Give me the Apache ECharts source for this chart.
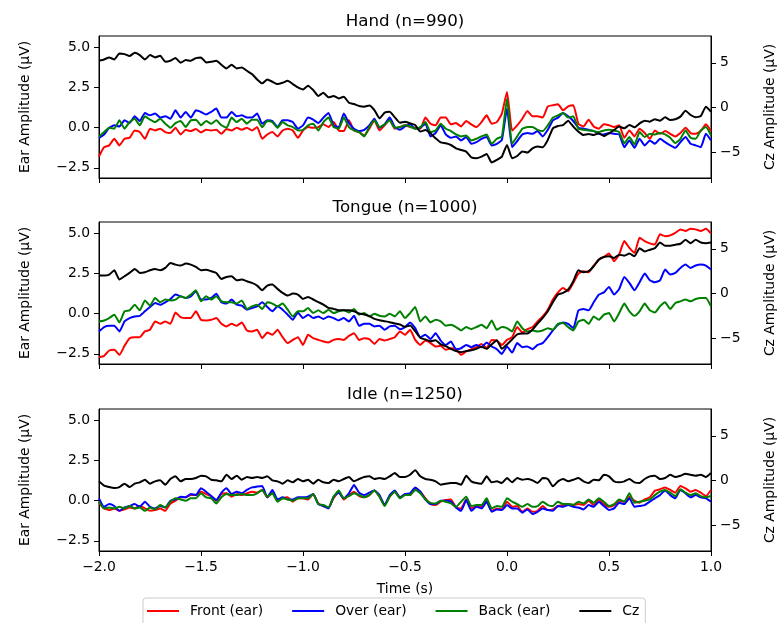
<!DOCTYPE html>
<html><head><meta charset="utf-8">
<script src="https://cdn.jsdelivr.net/npm/echarts@6/dist/echarts.min.js"></script>
<style>html,body{margin:0;padding:0;background:#fff}#c{width:779px;height:623px}</style>
</head><body><div id="c"></div>
<script>
const tStart = -2.0, tStep = 0.025;
const xTickMin = -2.0, xTickMax = 1.0, xTickStep = 0.5;
const earTicks = [-2.5, 0, 2.5, 5];
const czTicks = [-5, 0, 5];
const panelTitles = ['Hand (n=990)', 'Tongue (n=1000)', 'Idle (n=1250)'];
const seriesNames = ['Front (ear)', 'Over (ear)', 'Back (ear)', 'Cz'];
const seriesColors = ['#ff0000', '#0000ff', '#008000', '#000000'];

const handFront = [
-1.79,-1.21,-1.1,-0.69,-1.1,-0.69,-0.63,-0.17,-0.27,-0.69,
-0.06,-0.17,-0.06,-0.27,-0.33,0,-0.42,-0.13,-0.21,-0.08,
-0.29,-0.13,-0.17,-0.13,-0.38,-0.08,-0.17,0,-0.13,0,
-0.17,0.04,-0.69,-0.42,-0.27,-0.54,-0.17,-0.06,-0.17,-0.63,
-0.17,0.04,0,0.04,0.21,0.04,0.35,-0.17,-0.21,0.46,
-0.17,-0.27,-0.48,-0.06,0.46,-0.17,0.15,0.5,-0.06,0.04,
0.15,0.04,0,-0.06,0.63,0.25,0.15,0.63,0.63,0.21,
0.29,0.08,0.42,0.21,0.04,0.35,0.77,0.25,0.35,0.88,
2.23,-0.17,0.15,0.56,1.04,0.71,0.71,0.63,1.33,1.4,
1.46,1.08,1.33,1.4,0.25,0.08,0.5,0.08,-0.06,0.21,
0.15,0.04,0.15,-0.63,-0.17,-0.54,-0.06,-0.33,-0.69,-0.17,
-0.38,-0.21,-0.38,-0.54,-0.33,0,-0.33,-0.38,-0.21,0.21,
-0.21];
const handOver = [
-0.63,-0.42,0,0.15,0.08,0.46,0.29,0.71,0.42,0.92,
0.77,0.88,0.63,0.71,0.56,1.08,0.63,0.98,0.63,1.08,
0.98,0.83,0.98,1.19,0.63,0.63,0.98,0.71,0.77,0.63,
0.63,0.88,0.25,0.46,0.42,0.04,0.46,0.46,0.35,-0.06,
0.15,0.63,0.5,0.29,0.63,0.92,0.15,0.04,0.88,0.29,
-0.06,-0.21,-0.13,0.15,0.56,0,0.21,0.63,0.04,-0.13,
0.08,0.21,-0.06,0,0.25,-0.54,-0.33,0.15,-0.42,-0.63,
-0.54,-0.79,-0.58,-1.0,-0.9,-0.69,-0.58,-1.1,-1.0,-0.75,
1.19,-1.21,-0.83,-0.42,-0.33,-0.38,-0.21,-0.54,-0.13,0.46,
0.63,0.92,0.71,0.42,0,-0.06,-0.13,-0.21,-0.38,-0.42,
-0.33,-0.38,-0.42,-1.21,-0.79,-1.25,-0.69,-1.1,-0.79,-1.0,
-0.69,-0.9,-1.1,-1.25,-0.9,-0.58,-1.0,-1.1,-1.21,-0.38,
-0.79];
const handBack = [
-0.54,-0.27,0,-0.06,0.46,-0.06,0.35,0.56,0.15,0.71,
0.5,0.35,0.56,0.25,0,0.29,0.42,0.04,0.46,0.5,
0.15,0.42,0.25,0.46,0.15,0,0.63,0.35,0.56,0.25,
0.5,0.5,0.04,0.42,0.35,0,0.35,0.15,0.04,-0.17,
-0.13,0.15,0.25,-0.17,0.35,0.63,0.04,-0.06,0.63,0.04,
-0.17,-0.27,-0.54,0.04,0.46,0.04,0.21,0.46,0,0.04,
0.15,0.08,-0.06,0.04,0.35,-0.27,-0.17,0.25,-0.06,-0.21,
-0.42,-0.54,-0.48,-0.79,-0.69,-0.54,-0.42,-1.0,-0.69,-0.54,
1.81,-1.0,-0.54,-0.06,0.04,0.04,-0.13,-0.21,0.15,0.63,
0.77,0.92,0.63,0.71,-0.06,-0.13,-0.17,-0.21,-0.27,-0.17,
-0.13,-0.17,-0.27,-0.96,-0.58,-1.04,-0.27,-0.58,-0.38,-0.42,
-0.33,-0.42,-0.63,-0.96,-0.69,-0.17,-0.63,-0.69,-0.17,0.04,
-0.48];
const handCz = [
5.22,5.37,5.6,5.37,6.04,5.97,5.75,6.12,5.86,5.37,
5.86,5.6,5.78,5.11,5.22,5.52,5.0,5.3,5.22,5.52,
5.6,5.04,5.11,5.22,4.78,4.37,4.78,4.37,4.48,4.1,
3.73,3.13,2.69,3.13,2.87,2.61,2.76,2.99,2.61,2.24,
2.01,2.43,1.94,1.27,1.64,1.12,1.27,1.0,1.19,0.52,
0.37,0.15,0.07,0.22,-0.3,-1.23,-0.6,-0.49,-1.12,-1.72,
-1.6,-1.79,-1.98,-2.72,-2.54,-2.91,-3.47,-3.92,-4.03,-4.22,
-4.59,-4.78,-4.96,-5.6,-5.7,-5.52,-5.22,-6.19,-5.9,-5.52,
-4.22,-5.7,-5.45,-4.96,-5.07,-4.59,-4.4,-4.48,-3.66,-2.35,
-2.09,-1.98,-1.49,-2.16,-2.72,-3.1,-2.99,-3.1,-2.91,-3.21,
-2.91,-2.54,-2.16,-2.35,-1.98,-2.24,-1.79,-1.49,-1.6,-1.34,
-1.49,-1.12,-1.42,-1.34,-1.04,-0.37,-0.86,-1.12,-0.97,0.07,
-0.49];

const tongueFront = [
-2.71,-2.62,-2.29,-2.25,-2.56,-2.0,-1.52,-1.46,-1.46,-1.1,
-1.0,-0.48,-0.63,-0.48,-0.63,0.08,-0.21,-0.27,-0.27,0.15,
-0.38,-0.42,-0.38,-0.27,-0.63,-0.79,-0.63,-0.75,-0.54,-1.04,
-1.1,-1.0,-1.52,-1.17,-1.31,-1.0,-1.46,-1.83,-1.63,-1.46,
-1.94,-1.31,-1.52,-1.63,-1.73,-1.79,-1.63,-1.58,-1.63,-1.38,
-1.21,-1.63,-1.52,-1.58,-1.88,-1.58,-1.67,-1.58,-1.46,-1.1,
-1.31,-1.0,-1.63,-1.94,-1.67,-1.83,-2.04,-2.0,-2.25,-2.15,
-2.21,-2.56,-2.35,-2.21,-2.08,-1.88,-2.15,-1.63,-1.67,-1.94,
-1.63,-1.46,-0.83,-1.17,-0.96,-0.83,-0.48,-0.17,0.25,0.88,
1.33,1.6,1.4,1.92,2.5,2.65,2.58,3.0,3.38,3.54,
3.75,3.27,3.69,4.52,4.1,3.79,4.73,4.52,4.38,4.31,
4.94,4.83,4.88,5.04,5.25,5.15,5.29,5.25,5.15,5.29,
5.0];
const tongueOver = [
-1.1,-0.83,-0.75,-0.75,-1.1,-0.48,-0.27,-0.17,-0.13,0.15,
0.42,0.67,0.56,0.71,0.92,1.19,1.08,0.98,1.08,1.4,
0.88,0.88,0.98,1.25,0.71,0.63,0.88,0.56,0.5,0.25,
0.35,0.46,0.71,0.42,0.15,0.46,0.25,-0.06,-0.38,0.08,
-0.27,-0.06,-0.27,-0.17,-0.33,-0.17,-0.27,-0.42,-0.27,-0.48,
-0.13,-0.75,-0.63,-0.63,-0.79,-0.75,-1.0,-0.79,-0.75,-0.96,
-0.83,-0.54,-0.9,-1.46,-1.31,-1.58,-1.21,-1.67,-1.94,-1.73,
-2.21,-2.15,-1.94,-2.08,-1.94,-2.08,-1.79,-2.04,-2.21,-2.5,
-2.04,-2.42,-1.83,-2.08,-2.04,-2.21,-1.94,-1.83,-1.46,-1.04,
-0.69,-0.54,-0.63,-0.9,0.21,0.29,0.21,0.71,1.19,1.33,
1.67,1.19,1.54,2.29,1.92,1.46,1.96,2.5,2.08,1.96,
2.08,2.75,2.44,2.54,2.85,3.06,2.85,3.0,3.06,3.0,
2.75];
const tongueBack = [
-0.48,-0.42,-0.27,-0.06,-0.54,0.15,0.21,0.56,0.21,0.83,
0.5,0.98,0.71,0.88,0.83,0.88,1.08,0.98,1.19,1.46,
0.77,1.08,0.88,1.08,0.77,0.71,0.71,0.63,0.83,0.29,
0.46,0.56,0.29,0.71,0.63,0.46,0.63,0.25,-0.17,0.15,
0.15,0.35,0.04,0.21,0.04,0.25,0.04,0.15,0.21,0.08,
0.29,-0.06,0.04,-0.17,0,-0.13,-0.17,0,-0.17,0.15,
-0.27,0.04,0.42,-0.48,-0.17,-0.54,-0.38,-0.48,-0.75,-0.69,
-0.83,-1.04,-0.83,-0.96,-0.83,-0.69,-0.9,-0.42,-1.0,-0.83,
-0.9,-1.1,-0.48,-0.9,-1.1,-1.04,-1.1,-1.04,-0.9,-1.0,
-0.63,-0.58,-0.83,-1.04,-0.48,-0.38,-0.63,-0.17,-0.38,-0.06,
0.04,-0.48,0.04,0.63,0.15,-0.13,0.15,0.63,0.21,0.08,
0.46,0.71,0.29,0.67,0.77,0.88,0.77,0.92,0.98,0.98,
0.46];
const tongueCz = [
1.99,1.99,2.1,2.59,1.54,1.92,2.29,2.74,2.29,2.37,
2.59,2.74,2.59,2.85,3.41,3.22,3.11,3.34,3.22,2.96,
2.59,2.66,2.48,2.29,1.62,1.84,1.92,1.47,1.54,1.36,
1.17,0.87,0.35,0.87,0.99,0.5,0.05,-0.25,-0.02,-0.13,
-0.62,-0.4,-0.69,-0.99,-1.25,-1.63,-1.74,-1.89,-1.89,-1.89,
-2.0,-2.26,-2.37,-2.56,-2.86,-3.01,-3.12,-3.23,-3.38,-3.49,
-3.75,-3.6,-4.24,-4.99,-5.17,-5.36,-5.25,-5.73,-5.92,-6.22,
-6.47,-6.59,-6.47,-6.37,-6.22,-5.99,-6.22,-5.73,-5.25,-6.22,
-5.73,-5.17,-4.61,-4.5,-4.5,-4.05,-3.38,-2.75,-2.0,-0.99,
-0.13,0.05,0.43,1.36,2.59,2.37,2.48,3.04,3.78,4.08,
4.16,3.97,4.34,4.23,4.46,4.16,5.07,4.7,4.89,5.07,
5.71,5.34,5.34,5.45,5.56,6.0,5.63,6.0,5.71,5.63,
5.71];

const idleFront = [
-0.13,-0.48,-0.58,-0.48,-0.63,-0.54,-0.42,-0.48,-0.33,-0.48,
-0.63,-0.58,-0.48,-0.63,-0.17,0,0.21,0.21,0.35,0.35,
0.56,0.42,0.29,0,0.42,0.46,0.25,0.42,0.35,0.46,
0.56,0.5,0.67,0.21,0.5,0,0.15,0.21,-0.06,0.15,
0.15,0.08,0.42,-0.17,-0.33,-0.42,0.15,0.56,0.08,0.35,
0.56,0.29,0.21,0.35,0.63,0.25,-0.27,0.25,0.56,0.21,
0.35,0.35,0.77,0.56,0.15,-0.21,-0.27,-0.06,0.04,0.08,
-0.42,-0.48,0.08,-0.48,-0.33,-0.38,0,-0.63,-0.48,-0.54,
-0.06,-0.38,-0.33,-0.69,-0.48,-0.69,-0.63,-0.33,-0.58,-0.54,
-0.33,-0.27,-0.21,-0.27,-0.21,-0.27,0,-0.27,0.08,-0.21,
-0.38,-0.27,0,-0.06,0.25,0,-0.13,0.08,0.21,0.63,
0.71,0.83,0.67,0.5,0.92,0.77,0.56,0.67,0.5,0.29,
0.67];
const idleOver = [
0.15,-0.38,-0.21,-0.33,-0.63,-0.42,-0.33,-0.21,-0.38,-0.06,
-0.38,-0.48,-0.33,-0.42,0,0.08,0.25,0.21,0.42,0.35,
0.77,0.56,0.29,0.04,0.5,0.77,0.42,0.56,0.46,0.67,
0.83,0.88,0.92,0.21,0.67,0.08,0.21,0.08,0.08,0.21,
0.21,0.25,0.42,-0.21,-0.33,-0.48,0.25,0.5,0.15,0.46,
0.98,0.5,0.35,0.5,0.63,0.35,-0.27,0.35,0.63,0.21,
0.42,0.46,0.83,0.56,0.08,-0.21,-0.21,0,0,-0.06,
-0.42,-0.63,0.04,-0.63,-0.38,-0.48,-0.06,-0.69,-0.54,-0.58,
-0.27,-0.48,-0.48,-0.75,-0.54,-0.83,-0.69,-0.48,-0.58,-0.63,
-0.33,-0.38,-0.27,-0.38,-0.42,-0.54,-0.27,-0.38,-0.06,-0.33,
-0.58,-0.48,-0.13,-0.21,0.15,-0.38,-0.33,-0.27,-0.06,0.15,
0.35,0.63,0.35,0.15,0.67,0.46,0.21,0.35,0.21,0.15,
-0.06];
const idleBack = [
-0.06,-0.48,-0.42,-0.48,-0.38,-0.48,-0.33,-0.48,-0.42,-0.63,
-0.42,-0.54,-0.27,-0.42,-0.06,0.15,0.08,0,0.15,0.15,
0.46,0.21,0.15,-0.17,0.21,0.42,0.35,0.35,0.42,0.35,
0.35,0.46,0.67,0.25,0.46,-0.06,0.15,0.08,0,0.15,
0.15,0.15,0.42,-0.21,-0.27,-0.42,0.25,0.63,0.15,0.29,
0.46,0.35,0.21,0.35,0.63,0.25,-0.33,0.25,0.56,0.15,
0.35,0.35,0.67,0.46,0.08,-0.13,-0.17,0,-0.06,-0.17,
-0.38,-0.06,0.25,-0.33,-0.27,-0.27,0.15,-0.48,-0.33,-0.38,
0.15,-0.06,-0.21,-0.38,-0.21,-0.38,-0.33,-0.06,-0.27,-0.33,
-0.06,-0.21,-0.21,-0.27,-0.06,-0.17,0.08,-0.13,0.15,-0.06,
-0.33,-0.21,0.08,-0.06,0.46,-0.13,-0.06,0,0.08,0.35,
0.56,0.67,0.5,0.29,0.71,0.5,0.35,0.46,0.29,0.21,
0.29];
const idleCz = [
-0.11,-0.6,-0.75,-0.86,-0.75,-0.37,-0.75,-0.37,-0.22,0.07,
-0.37,-0.11,0,-0.49,0.15,0.45,-0.11,0.15,0.15,0.26,
0.52,0.45,0.07,0,-0.11,0.63,0.15,0.52,0.07,0.37,
0.26,0.37,0.26,0.45,0,-0.11,-0.37,0,-0.22,0.15,
-0.11,0.07,-0.37,0.07,-0.22,-0.3,0.07,-0.11,0.15,0.37,
-0.11,0.15,0.37,0.45,0.15,0.26,0.15,0.45,0.82,0.37,
0.37,0.63,1.12,0.45,0.15,0.07,-0.11,-0.49,-0.37,-0.3,
-0.3,-0.49,0.52,-0.11,-0.3,-0.37,0.45,-0.22,-0.11,-0.3,
0.26,-0.22,0.26,0.07,0.15,0,-0.3,0.26,0.15,-0.67,
-0.11,0.15,-0.11,0.07,0.26,-0.11,-0.3,0.07,0,0.63,
0.45,-0.11,-0.22,-0.11,0.15,-0.22,-0.3,0.15,0.45,0.52,
0.15,0.26,0.63,0.37,0.52,0.75,0.63,0.52,0.63,0.37,
0.82];

const panels = [
  [handFront, handOver, handBack, handCz],
  [tongueFront, tongueOver, tongueBack, tongueCz],
  [idleFront, idleOver, idleBack, idleCz]
];
const times = handFront.map((_, i) => +(tStart + i * tStep).toFixed(3));

const FONT = 'DejaVu Sans';
const gridTops = [36, 222, 409];
const gridLeft = 99, gridW = 612, gridH = 142;
const fmt1 = v => (v < 0 ? '\u2212' : '') + Math.abs(v).toFixed(1);
const fmt0 = v => (v < 0 ? '\u2212' : '') + Math.abs(v).toFixed(0);
const txt = {color: '#000', fontFamily: FONT, fontSize: 13.9};

const grids = [], xAxes = [], yAxes = [], series = [], graphics = [];
panels.forEach((pan, p) => {
  grids.push({left: gridLeft, top: gridTops[p], width: gridW, height: gridH,
    containLabel: false, outerBoundsMode: 'none',
    show: true, borderColor: '#000', borderWidth: 1, backgroundColor: 'transparent'});
  xAxes.push({type: 'value', gridIndex: p, min: xTickMin, max: xTickMax, interval: xTickStep,
    axisLine: {show: true, onZero: false, lineStyle: {color: '#000', width: 1}},
    axisTick: {show: true, length: 5, lineStyle: {color: '#000', width: 1}},
    splitLine: {show: false},
    axisLabel: {show: p === 2, formatter: fmt1, margin: 9, ...txt},
    name: p === 2 ? 'Time (s)' : '', nameLocation: 'middle', nameGap: 31,
    nameTextStyle: {...txt}
  });
  yAxes.push({type: 'value', gridIndex: p, position: 'left', min: -3.13, max: 5.71,
    axisLine: {show: true, onZero: false, lineStyle: {color: '#000', width: 1}},
    axisTick: {show: true, length: 5, customValues: earTicks, lineStyle: {color: '#000', width: 1}},
    splitLine: {show: false},
    axisLabel: {customValues: earTicks, formatter: fmt1, margin: 9, ...txt},
    name: 'Ear Amplitude (\u03bcV)', nameLocation: 'middle', nameGap: 67, nameTextStyle: {...txt}
  });
  yAxes.push({type: 'value', gridIndex: p, position: 'right', min: -7.92, max: 8.0,
    axisLine: {show: true, onZero: false, lineStyle: {color: '#000', width: 1}},
    axisTick: {show: true, length: 5, customValues: czTicks, lineStyle: {color: '#000', width: 1}},
    splitLine: {show: false},
    axisLabel: {customValues: czTicks, formatter: fmt0, margin: 9, ...txt},
    name: 'Cz Amplitude (\u03bcV)', nameLocation: 'middle', nameGap: 52, nameTextStyle: {...txt}
  });
  pan.forEach((arr, k) => {
    series.push({
      type: 'line', name: seriesNames[k], xAxisIndex: p, yAxisIndex: 2 * p + (k === 3 ? 1 : 0),
      data: arr.map((v, i) => [times[i], v]),
      showSymbol: false, symbol: 'none', animation: false, smooth: 0.15,
      lineStyle: {color: seriesColors[k], width: 2},
      itemStyle: {color: seriesColors[k]},
      z: 2 + k
    });
  });
  graphics.push({type: 'text', x: gridLeft + gridW / 2, y: gridTops[p] - 14.5,
    style: {text: panelTitles[p], align: 'center', verticalAlign: 'middle',
      fill: '#000', font: '16.7px "DejaVu Sans"'}});
});

const chart = echarts.init(document.getElementById('c'), null, {renderer: 'canvas'});
chart.setOption({
  animation: false,
  backgroundColor: '#fff',
  grid: grids, xAxis: xAxes, yAxis: yAxes, series: series,
  graphic: graphics,
  legend: {
    data: seriesNames, left: 143, top: 598, orient: 'horizontal',
    icon: 'rect', itemWidth: 32, itemHeight: 2, itemGap: 29,
    padding: [6, 6, 12, 4],
    borderColor: '#cccccc', borderWidth: 1, borderRadius: 3,
    textStyle: {...txt, padding: [0, 0, 0, 6]}
  }
});
</script></body></html>
